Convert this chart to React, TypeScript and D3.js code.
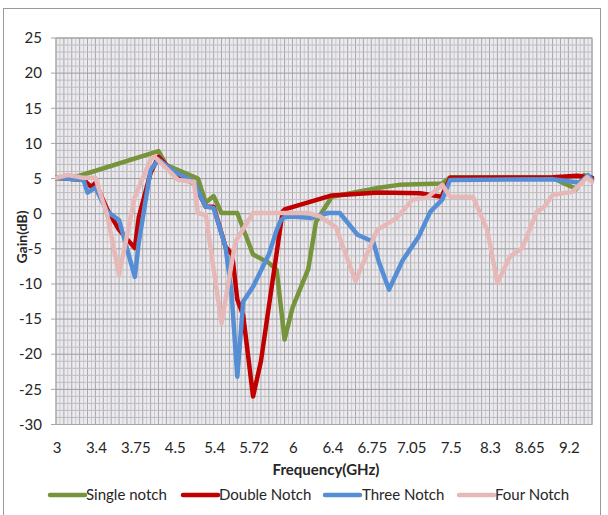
import React from "react";
import * as d3 from "d3";

// Frequency labels shown on the category axis (one label every LABEL_EVERY categories)
const xLabels = ["3", "3.4", "3.75", "4.5", "5.4", "5.72", "6", "6.4", "6.75", "7.05", "7.5", "8.3", "8.65", "9.2"];
const LABEL_EVERY = 10;
const CATEGORY_COUNT = 137;
const yTicks = [-30, -25, -20, -15, -10, -5, 0, 5, 10, 15, 20, 25];

// Gain (dB) per series as [category index, gain]
const singleNotch: [number, number][] = [
  [0, 5.0], [3, 5.2], [6, 5.4], [26, 8.9], [28, 6.9], [36, 5.0], [38, 1.6], [40, 2.5], [42, 0.1],
  [46, 0.1], [50, -5.8], [54, -7.0], [56, -8.0], [58, -17.9], [60, -13.4], [64, -7.9], [66, -1.1],
  [70, 2.4], [82, 3.7], [87, 4.1], [98, 4.3], [100, 5.2], [126, 5.1], [132, 3.5], [134, 5.5], [136, 5.1],
];
const doubleNotch: [number, number][] = [
  [0, 5.1], [7, 4.8], [9, 3.8], [10, 4.4], [13, 0.6], [16, -2.3], [20, -4.9], [21, -0.5], [24, 5.8],
  [26, 8.1], [31, 5.2], [35, 4.4], [38, 1.0], [40, 1.0], [43, -4.7], [44.7, -5.8], [46, -12.2],
  [47.5, -14.5], [50, -26.0], [52, -21.0], [57.5, 0.3], [58, 0.6], [70, 2.6], [82, 3.0], [92.4, 2.9],
  [97.8, 2.4], [100, 5.1], [126, 5.2], [132.3, 5.4], [136, 5.1],
];
const threeNotch: [number, number][] = [
  [0, 5.1], [7, 4.8], [8, 3.0], [10, 3.7], [13, 0.3], [16, -0.9], [20, -9.0], [21, -4.1], [24, 6.2],
  [26, 7.7], [30, 6.0], [35, 4.5], [38, 1.0], [40, 0.8], [43, -4.7], [44.5, -11.0], [46, -23.2],
  [47.5, -12.5], [50, -10.4], [54, -5.8], [56, -2.3], [57, -1.0], [58, -0.5], [60, -0.4], [65, -0.6],
  [69, 0.1], [72, 0.1], [76.5, -3.0], [80.5, -4.0], [82, -7.0], [84.5, -10.8], [88, -6.6], [92, -3.3],
  [95, 0.3], [98, 2.0], [100, 4.8], [126, 4.9], [133, 4.4], [135, 5.5], [136, 4.8],
];
const fourNotch: [number, number][] = [
  [0, 5.1], [3, 5.5], [7, 5.1], [10, 5.1], [13, -0.2], [16, -8.7], [20, 2.4], [24, 7.7], [25, 8.1],
  [31, 4.8], [35, 4.5], [36, 0.1], [38, -0.2], [42, -15.6], [45.5, -4.0], [50, 0.1], [64, 0.1],
  [67, -0.4], [71, -1.9], [76, -9.6], [81.5, -2.3], [86.5, -0.6], [90.4, 2.0], [94.2, 2.3], [98, 4.1],
  [100, 2.4], [105.8, 2.4], [109.4, -2.3], [112, -9.8], [115.2, -6.1], [118.3, -4.9], [122, 0.3],
  [123.6, 0.8], [126.1, 2.7], [131, 3.1], [134.8, 5.2], [136, 4.5],
];

const seriesNames = ["Single notch", "Double Notch", "Three Notch", "Four Notch"];
const seriesData = [singleNotch, doubleNotch, threeNotch, fourNotch];
const seriesColors = ["#77933C", "#C00000", "#558ED5", "#E6B9B8"];

const W = 608;
const H = 515;
const plot = { left: 56, right: 592, top: 38, bottom: 424.5 };
const FONT = "Lato, 'Open Sans', sans-serif";
const TEXT = "#262626";

export default function App() {
  const x = d3.scaleLinear().domain([0, CATEGORY_COUNT - 1]).range([plot.left, plot.right]);
  const y = d3.scaleLinear().domain([-30, 25]).range([plot.bottom, plot.top]);
  const line = d3
    .line<[number, number]>()
    .x((d) => x(d[0]))
    .y((d) => y(d[1]));

  const minorY = d3.range(-30, 26, 1);
  const cats = d3.range(0, CATEGORY_COUNT);

  const legendItems = [
    { lineX: 50, textX: 86 },
    { lineX: 183, textX: 219 },
    { lineX: 325, textX: 362 },
    { lineX: 459, textX: 495 },
  ];

  return (
    <svg
      width={W}
      height={H}
      style={{ position: "absolute", left: 0, top: 0, background: "#fff" }}
      fontFamily={FONT}
    >
      <rect x={3.5} y={8.5} width={597} height={H} fill="#fff" stroke="#9a9a9a" strokeWidth={1} />

      {/* plot area */}
      <rect x={plot.left} y={plot.top} width={plot.right - plot.left} height={plot.bottom - plot.top} fill="#ECEAF0" />

      {/* vertical gridlines, one per category */}
      {cats.map((c) => (
        <line
          key={"v" + c}
          x1={x(c)}
          x2={x(c)}
          y1={plot.top}
          y2={plot.bottom}
          stroke={c % 2 === 0 ? "#A8A8A8" : "#C9C9C9"}
          strokeWidth={1}
        />
      ))}

      {/* horizontal gridlines */}
      {minorY.map((v) => (
        <line
          key={"h" + v}
          x1={plot.left}
          x2={plot.right}
          y1={y(v)}
          y2={y(v)}
          stroke={v % 5 === 0 ? "#9C9C9C" : "#BDBDBD"}
          strokeWidth={1}
        />
      ))}

      <rect
        x={plot.left}
        y={plot.top}
        width={plot.right - plot.left}
        height={plot.bottom - plot.top}
        fill="none"
        stroke="#A6A6A6"
      />

      {/* y ticks and labels */}
      {yTicks.map((v) => (
        <g key={"yt" + v}>
          <line x1={plot.left - 5} x2={plot.left} y1={y(v)} y2={y(v)} stroke="#A6A6A6" />
          <text x={42} y={y(v)} dy="0.35em" textAnchor="end" fontSize={15} fill={TEXT}>
            {v}
          </text>
        </g>
      ))}

      {/* x labels */}
      {xLabels.map((lab, i) => (
        <text key={"xl" + i} x={x(i * LABEL_EVERY) + 1} y={453} textAnchor="middle" fontSize={15} fill={TEXT}>
          {lab}
        </text>
      ))}

      {/* axis titles */}
      <text x={326} y={475} textAnchor="middle" fontSize={15} fontWeight="bold" fill={TEXT}>
        Frequency(GHz)
      </text>
      <text
        transform={`translate(27, 237) rotate(-90)`}
        textAnchor="middle"
        fontSize={14}
        fontWeight="bold"
        fill={TEXT}
      >
        Gain(dB)
      </text>

      {/* series */}
      <g clipPath="url(#plotClip)">
        {seriesData.map((s, i) => (
          <path
            key={seriesNames[i]}
            d={line(s) || ""}
            fill="none"
            stroke={seriesColors[i]}
            strokeWidth={4.5}
            strokeLinejoin="round"
            strokeLinecap="round"
          />
        ))}
      </g>
      <defs>
        <clipPath id="plotClip">
          <rect x={plot.left - 1} y={plot.top - 10} width={plot.right - plot.left + 4} height={plot.bottom - plot.top + 20} />
        </clipPath>
      </defs>

      {/* legend */}
      {seriesNames.map((name, i) => (
        <g key={"lg" + i}>
          <line
            x1={legendItems[i].lineX}
            x2={legendItems[i].lineX + 35}
            y1={495}
            y2={495}
            stroke={seriesColors[i]}
            strokeWidth={4.5}
            strokeLinecap="round"
          />
          <text x={legendItems[i].textX} y={500} fontSize={15} fill={TEXT}>
            {name}
          </text>
        </g>
      ))}
    </svg>
  );
}
